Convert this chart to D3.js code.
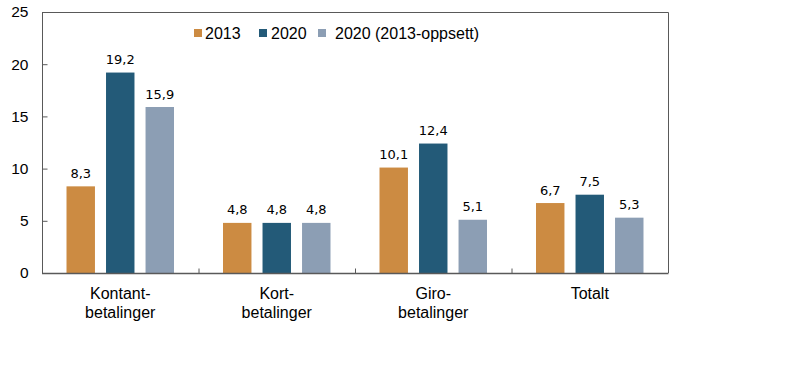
<!DOCTYPE html>
<html>
<head>
<meta charset="utf-8">
<script src="https://cdn.jsdelivr.net/npm/d3@7"></script>
<style>
  body { margin: 0; background: #fff; }
  svg { display: block; }
</style>
</head>
<body>
<svg id="chart" width="797" height="369"></svg>
<script>
const categories = [["Kontant-", "betalinger"], ["Kort-", "betalinger"], ["Giro-", "betalinger"], ["Totalt"]];
const seriesNames = ["2013", "2020", "2020 (2013-oppsett)"];
const values2013 = [8.3, 4.8, 10.1, 6.7];
const values2020 = [19.2, 4.8, 12.4, 7.5];
const values2020b = [15.9, 4.8, 5.1, 5.3];
const yTicks = [0, 5, 10, 15, 20, 25];
const colors = ["#CC8B42", "#235A78", "#8C9EB4"];

const seriesValues = [values2013, values2020, values2020b];
const svg = d3.select("#chart");
const mLeft = 42, mRight = 668, mTop = 12, mBottom = 273;
const axisColor = "#595959";

const x0 = d3.scaleBand().domain(d3.range(categories.length)).range([mLeft, mRight]).paddingInner(0).paddingOuter(0);
const x1 = d3.scaleBand().domain(d3.range(seriesNames.length)).range([0, x0.bandwidth()]).paddingInner(0.28).paddingOuter(0.62);
const y = d3.scaleLinear().domain([0, 25]).range([mBottom, mTop]);

// frame (top and right)
svg.append("path")
  .attr("d", `M${mLeft},${mTop + 0.5}H${mRight + 0.5}V${mBottom}`)
  .attr("fill", "none").attr("stroke", axisColor).attr("stroke-width", 1);

// bars
const groups = svg.append("g").selectAll("g")
  .data(categories.map((c, i) => i)).join("g")
  .attr("transform", i => `translate(${x0(i)},0)`);

groups.selectAll("rect")
  .data(i => seriesValues.map((vals, s) => ({ s, v: vals[i] })))
  .join("rect")
  .attr("x", d => x1(d.s))
  .attr("width", x1.bandwidth())
  .attr("y", d => y(d.v))
  .attr("height", d => y(0) - y(d.v))
  .attr("fill", d => colors[d.s]);

groups.selectAll("text.val")
  .data(i => seriesValues.map((vals, s) => ({ s, v: vals[i] })))
  .join("text")
  .attr("class", "val")
  .attr("x", d => x1(d.s) + x1.bandwidth() / 2)
  .attr("y", d => y(d.v) - 8.5)
  .attr("text-anchor", "middle")
  .attr("font-family", "DejaVu Sans, sans-serif")
  .attr("font-size", 13)
  .attr("fill", "#000")
  .text(d => d.v.toFixed(1).replace(".", ","));

// y axis
const yAxis = d3.axisLeft(y).tickValues(yTicks).tickSize(-5).tickPadding(14).tickFormat(d => d);
const yg = svg.append("g").attr("transform", `translate(${mLeft + 0.5},0)`).call(yAxis);
yg.select(".domain").attr("stroke", axisColor).attr("d", `M0,${mTop}V${mBottom}`);
yg.selectAll(".tick line").attr("stroke", axisColor);
yg.selectAll(".tick text").attr("font-family", "Liberation Sans, Arial, sans-serif").attr("font-size", 15.5).attr("fill", "#000");

// x axis
const xg = svg.append("g").attr("transform", `translate(0,${mBottom + 0.5})`);
xg.append("line").attr("x1", mLeft).attr("x2", mRight + 0.5).attr("stroke", axisColor).attr("stroke-width", 1.3);
const boundaries = d3.range(1, categories.length).map(i => x0(i));
xg.selectAll("line.tk").data(boundaries).join("line")
  .attr("class", "tk")
  .attr("x1", d => d + 0.5).attr("x2", d => d + 0.5)
  .attr("y1", 0).attr("y2", -5)
  .attr("stroke", axisColor);

const catText = svg.append("g").selectAll("text")
  .data(categories.map((c, i) => ({ c, i }))).join("text")
  .attr("x", d => x0(d.i) + x0.bandwidth() / 2)
  .attr("y", 299)
  .attr("text-anchor", "middle")
  .attr("font-family", "Liberation Sans, Arial, sans-serif")
  .attr("font-size", 16)
  .attr("fill", "#000");
catText.selectAll("tspan").data(d => d.c.map(line => ({ line, x: x0(d.i) + x0.bandwidth() / 2 })))
  .join("tspan")
  .attr("x", d => d.x)
  .attr("dy", (d, j) => j === 0 ? 0 : 18.5)
  .text(d => d.line);

// legend
const legendItems = [{ x: 194, tx: 205 }, { x: 259, tx: 271 }, { x: 318, tx: 335 }];
const lg = svg.append("g");
lg.selectAll("rect").data(seriesNames).join("rect")
  .attr("x", (d, i) => legendItems[i].x)
  .attr("y", 29)
  .attr("width", 8).attr("height", 8)
  .attr("fill", (d, i) => colors[i]);
lg.selectAll("text").data(seriesNames).join("text")
  .attr("x", (d, i) => legendItems[i].tx)
  .attr("y", 38.5)
  .attr("font-family", "Liberation Sans, Arial, sans-serif")
  .attr("font-size", 16)
  .attr("fill", "#000")
  .text(d => d);
</script>
</body>
</html>
